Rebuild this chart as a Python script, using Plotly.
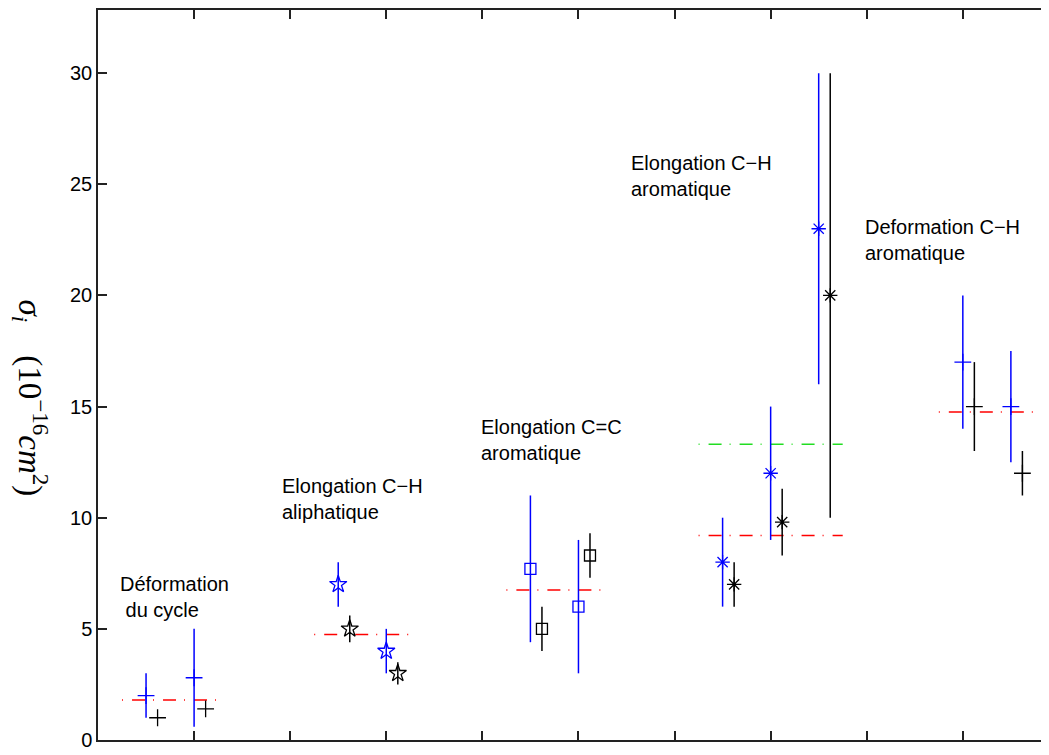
import plotly.graph_objects as go

# ---- data ----
# blue = first measurement set, black = second measurement set
plus_blue_x = [0.5, 1.0, 9.0, 9.5]
plus_blue_y = [2.0, 2.8, 17.0, 15.0]
plus_blue_err = [1.0, 2.2, 3.0, 2.5]

plus_black_x = [0.62, 1.12, 9.12, 9.62]
plus_black_y = [1.0, 1.4, 15.0, 12.0]
plus_black_err = [0.0, 0.0, 2.0, 1.0]

star_blue_x = [2.5, 3.0]
star_blue_y = [7.0, 4.0]
star_blue_err = [1.0, 1.0]

star_black_x = [2.62, 3.12]
star_black_y = [5.0, 3.0]
star_black_err = [0.6, 0.5]

square_blue_x = [4.5, 5.0]
square_blue_y = [7.7, 6.0]
square_blue_err = [3.3, 3.0]

square_black_x = [4.62, 5.12]
square_black_y = [5.0, 8.3]
square_black_err = [1.0, 1.0]

ast_blue_x = [6.5, 7.0, 7.5]
ast_blue_y = [8.0, 12.0, 23.0]
ast_blue_err = [2.0, 3.0, 7.0]

ast_black_x = [6.62, 7.12, 7.62]
ast_black_y = [7.0, 9.8, 20.0]
ast_black_err = [1.0, 1.5, 10.0]

# group mean lines (start, end, value)
red_start = [0.25, 2.25, 4.25, 6.25, 8.75]
red_end = [1.25, 3.25, 5.25, 7.75, 9.75]
red_value = [1.8, 4.75, 6.75, 9.2, 14.75]
green_start = [6.25]
green_end = [7.75]
green_value = [13.3]

# annotation texts and anchors (left x, top y in data units)
label_texts = ["Déformation<br> du cycle",
               "Elongation C−H<br>aliphatique",
               "Elongation C=C<br>aromatique",
               "Elongation C−H<br>aromatique",
               "Deformation C−H<br>aromatique"]
label_x = [0.21, 1.89, 3.97, 5.53, 7.965]
label_y = [7.6, 12.0, 14.65, 26.55, 23.65]

y_ticks = [0, 5, 10, 15, 20, 25, 30]
x_ticks = [1, 2, 3, 4, 5, 6, 7, 8, 9]

BLUE = "#0000ff"
BLACK = "#000000"

fig = go.Figure()

# mean lines
for x0, x1, v in zip(red_start, red_end, red_value):
    fig.add_trace(go.Scatter(x=[x0, x1], y=[v, v], mode="lines",
                             line=dict(color="#ff0000", width=1.5, dash="1px,9px,13px,8px"),
                             hoverinfo="skip"))
for x0, x1, v in zip(green_start, green_end, green_value):
    fig.add_trace(go.Scatter(x=[x0, x1], y=[v, v], mode="lines",
                             line=dict(color="#22dd22", width=1.5, dash="1px,9px,13px,8px"),
                             hoverinfo="skip"))


def add_series(xs, ys, errs, color, symbol, size, lw=1.3):
    fig.add_trace(go.Scatter(
        x=xs, y=ys, mode="markers",
        marker=dict(symbol=symbol, size=size, color=color,
                    line=dict(color=color, width=lw)),
        error_y=dict(type="data", array=errs, symmetric=True,
                     color=color, thickness=1.5, width=0),
    ))


add_series(plus_blue_x, plus_blue_y, plus_blue_err, BLUE, "cross-thin", 12)
add_series(plus_black_x, plus_black_y, plus_black_err, BLACK, "cross-thin", 12)
add_series(star_blue_x, star_blue_y, star_blue_err, BLUE, "star-open", 13)
add_series(star_black_x, star_black_y, star_black_err, BLACK, "star-open", 13)
add_series(square_blue_x, square_blue_y, square_blue_err, BLUE, "square-open", 11)
add_series(square_black_x, square_black_y, square_black_err, BLACK, "square-open", 11)
add_series(ast_blue_x, ast_blue_y, ast_blue_err, BLUE, "asterisk-open", 12)
add_series(ast_black_x, ast_black_y, ast_black_err, BLACK, "asterisk-open", 12)

annotations = []
for t, x, y in zip(label_texts, label_x, label_y):
    annotations.append(dict(x=x, y=y, xref="x", yref="y", text=t, showarrow=False,
                            xanchor="left", yanchor="top", align="left",
                            font=dict(family="Liberation Sans, Arial, sans-serif",
                                      size=20, color="black")))

# y axis label (reads top to bottom, as in the reference)
annotations.append(dict(
    x=-0.070, y=0.468, xref="paper", yref="paper", showarrow=False,
    textangle=90, xanchor="center", yanchor="middle",
    text="<i>σ<sub>i</sub></i>\u00a0\u00a0\u00a0\u00a0(10<sup>−16</sup><i>cm</i><sup>2</sup>)",
    font=dict(family="Liberation Serif, DejaVu Serif, serif", size=33, color="black")))

fig.update_layout(
    width=1049, height=755,
    margin=dict(l=90, r=0, t=0, b=23),
    paper_bgcolor="white", plot_bgcolor="white",
    showlegend=False,
    annotations=annotations,
    font=dict(family="Liberation Sans, Arial, sans-serif", size=20, color="black"),
)

fig.update_xaxes(range=[0, 9.98], tickvals=x_ticks, showticklabels=False,
                 ticks="inside", ticklen=9, tickwidth=1.5, tickcolor="#222",
                 showline=True, linecolor="#222", linewidth=1.5, mirror="ticks",
                 showgrid=False, zeroline=False)
fig.update_yaxes(range=[0, 32.84], tickvals=y_ticks, ticks="inside", ticklen=9,
                 tickwidth=1.5, tickcolor="#222",
                 showline=True, linecolor="#222", linewidth=1.5, mirror=False,
                 showgrid=False, zeroline=False,
                 tickfont=dict(size=20, color="black"))

fig.write_html("out.html")
